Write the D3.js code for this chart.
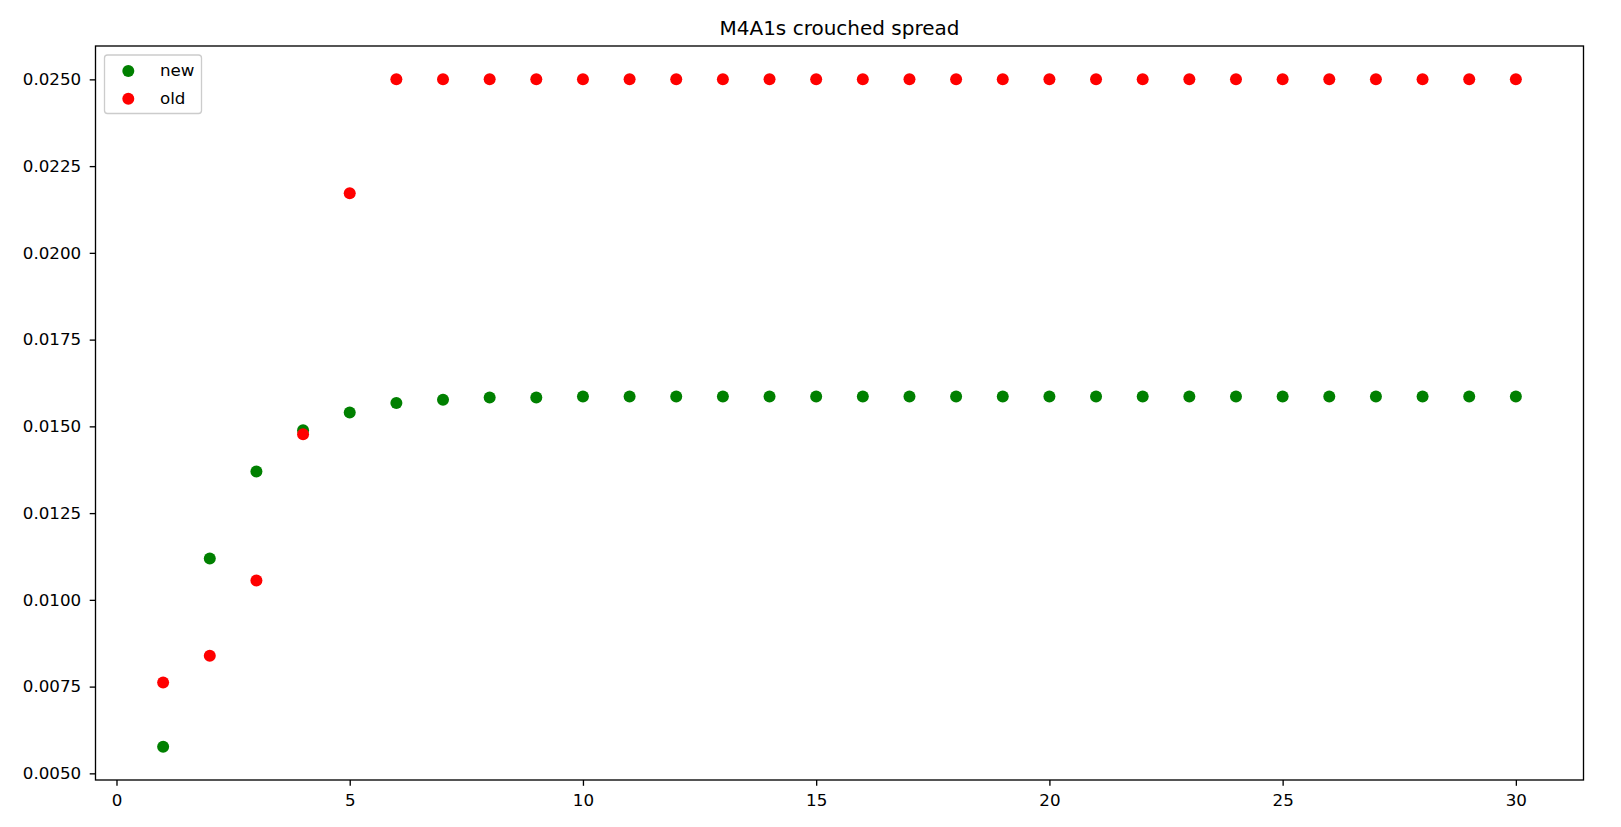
<!DOCTYPE html>
<html>
<head>
<meta charset="utf-8">
<script src="https://cdn.jsdelivr.net/npm/d3@7"></script>
<style>
  html, body { margin: 0; padding: 0; background: #fff; }
  svg { display: block; font-family: "DejaVu Sans", sans-serif; }
</style>
</head>
<body>
<svg id="chart" width="1621" height="827"></svg>
<script>
// ---- data ----
const xValues = d3.range(1, 31);
const newValues = [0.00577, 0.01119, 0.0137, 0.01489, 0.0154, 0.01567, 0.01577, 0.01583, 0.01583, 0.01586,
  0.01586, 0.01586, 0.01586, 0.01586, 0.01586, 0.01586, 0.01586, 0.01586, 0.01586, 0.01586,
  0.01586, 0.01586, 0.01586, 0.01586, 0.01586, 0.01586, 0.01586, 0.01586, 0.01586, 0.01586];
const oldValues = [0.00762, 0.00839, 0.01056, 0.01477, 0.02172, 0.025, 0.025, 0.025, 0.025, 0.025,
  0.025, 0.025, 0.025, 0.025, 0.025, 0.025, 0.025, 0.025, 0.025, 0.025,
  0.025, 0.025, 0.025, 0.025, 0.025, 0.025, 0.025, 0.025, 0.025, 0.025];
const seriesNames = ["new", "old"];
const seriesColors = ["#008000", "#ff0000"];
const xTicks = [0, 5, 10, 15, 20, 25, 30];
const yTicks = [0.0050, 0.0075, 0.0100, 0.0125, 0.0150, 0.0175, 0.0200, 0.0225, 0.0250];
const titleText = "M4A1s crouched spread";

// ---- layout ----
const svg = d3.select("#chart");
const plotLeft = 95.5, plotRight = 1583.5, plotTop = 46, plotBottom = 780;
const tickFont = "16.7px";

function padded(ext) {
  const m = (ext[1] - ext[0]) * 0.05;
  return [ext[0] - m, ext[1] + m];
}
const xScale = d3.scaleLinear().domain(padded(d3.extent(xValues))).range([plotLeft, plotRight]);
const yScale = d3.scaleLinear()
  .domain(padded(d3.extent(newValues.concat(oldValues))))
  .range([plotBottom, plotTop]);

// axes
const xAxis = d3.axisBottom(xScale).tickValues(xTicks).tickSize(5.8).tickPadding(8)
  .tickFormat(d3.format("d"));
const yAxis = d3.axisLeft(yScale).tickValues(yTicks).tickSize(5.8).tickPadding(8.5)
  .tickFormat(d3.format(".4f"));

const gx = svg.append("g").attr("transform", `translate(0,${plotBottom})`).call(xAxis);
const gy = svg.append("g").attr("transform", `translate(${plotLeft},0)`).call(yAxis);
[gx, gy].forEach(g => {
  g.select(".domain").remove();
  g.selectAll(".tick line").attr("stroke", "#000").attr("stroke-width", 1.33);
  g.selectAll(".tick text").attr("fill", "#000")
    .style("font-family", "'DejaVu Sans', sans-serif").style("font-size", tickFont);
});

// series
const series = [newValues, oldValues];
series.forEach((vals, i) => {
  svg.append("g").selectAll("circle")
    .data(xValues.map((x, j) => [x, vals[j]]))
    .join("circle")
    .attr("cx", d => xScale(d[0]))
    .attr("cy", d => yScale(d[1]))
    .attr("r", 6)
    .attr("fill", seriesColors[i]);
});

// frame
svg.append("rect")
  .attr("x", plotLeft).attr("y", plotTop)
  .attr("width", plotRight - plotLeft).attr("height", plotBottom - plotTop)
  .attr("fill", "none").attr("stroke", "#000").attr("stroke-width", 1.33);

// title
svg.append("text")
  .attr("x", (plotLeft + plotRight) / 2).attr("y", 35)
  .attr("text-anchor", "middle")
  .style("font-size", "20px").attr("fill", "#000")
  .text(titleText);

// legend
const lg = svg.append("g");
lg.append("rect")
  .attr("x", 104.5).attr("y", 55).attr("width", 97).attr("height", 58.5)
  .attr("rx", 3).attr("fill", "#fff").attr("fill-opacity", 0.8)
  .attr("stroke", "#cccccc").attr("stroke-width", 1.33);
seriesNames.forEach((name, i) => {
  const cy = 71 + i * 27.7;
  lg.append("circle").attr("cx", 128.3).attr("cy", cy).attr("r", 6).attr("fill", seriesColors[i]);
  lg.append("text").attr("x", 160).attr("y", cy + 5)
    .style("font-size", tickFont).attr("fill", "#000").text(name);
});
</script>
</body>
</html>
